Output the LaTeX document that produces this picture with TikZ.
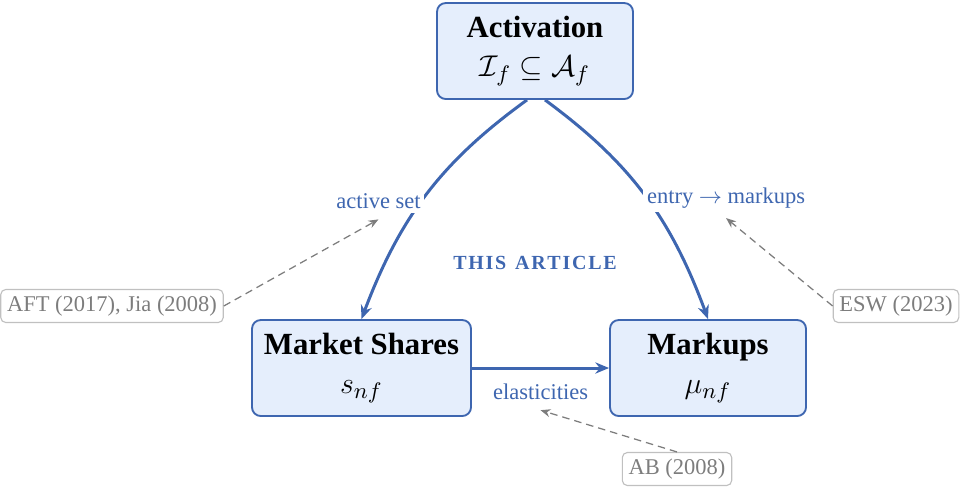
\documentclass[tikz,border=0pt]{standalone}
\usepackage{fontspec}
\setmainfont{Liberation Serif}
\usetikzlibrary{arrows.meta,bending}
\definecolor{mblue}{RGB}{62,102,176}
\definecolor{mfill}{RGB}{229,238,252}
\definecolor{cgray}{RGB}{125,125,125}
\definecolor{cborder}{RGB}{192,192,192}
\tikzset{
  mainbox/.style={draw=mblue, fill=mfill, line width=0.75pt, rounded corners=3.5pt,
    align=center, inner sep=0pt, minimum height=38.4pt,
    font=\fontsize{12.3}{15.5}\selectfont},
  flow/.style={draw=mblue, line width=1.2pt, -{Stealth[length=5.5pt,width=4.5pt]}},
  lbl/.style={text=mblue, fill=white, inner sep=1.5pt, font=\fontsize{9}{10}\selectfont},
  cite/.style={draw=cborder, rounded corners=2pt, text=cgray, line width=0.45pt,
    inner sep=2.5pt, minimum height=13.2pt, font=\fontsize{9}{10}\selectfont},
  refarrow/.style={draw=cgray, line width=0.5pt, dash pattern=on 3pt off 2pt,
    -{Stealth[length=4pt,width=3.2pt]}}
}
\begin{document}
\begin{tikzpicture}[x=0.4pt,y=-0.4pt]
\useasboundingbox (0,0) rectangle (960,489);
\node[mainbox, minimum width=78.4pt] (act) at (535,51)
  {\bfseries Activation\\ $\mathcal{I}_f \subseteq \mathcal{A}_f$};
\node[mainbox, minimum width=87.6pt] (ms) at (361.5,368)
  {\bfseries Market Shares\\ $s_{nf}$};
\node[mainbox, minimum width=78.4pt] (mk) at (708,368)
  {\bfseries Markups\\ $\mu_{nf}$};

\draw[flow] ([xshift=-3.2pt]act.south) to[bend right=17]
  node[lbl, pos=0.53, anchor=east, xshift=2pt] (l1) {active set} (ms.north);
\draw[flow] ([xshift=4pt]act.south) to[bend left=17]
  node[lbl, pos=0.51, anchor=west, xshift=-2pt] (l2) {entry $\rightarrow$ markups} (mk.north);
\draw[flow] (ms.east) -- node[lbl, midway, yshift=-9.6pt] (l3) {elasticities} (mk.west);

\node[text=mblue, font=\fontsize{8}{10}\selectfont\bfseries] (art) at (535,263)
  {T\kern.7pt H\kern.7pt I\kern.7pt S\hspace{3.5pt}A\kern.7pt R\kern.7pt T\kern.7pt I\kern.7pt C\kern.7pt L\kern.7pt E};

\node[cite] (aft) at (112,306) {AFT (2017), Jia (2008)};
\node[cite] (esw) at (896,306) {ESW (2023)};
\node[cite] (ab) at (677,469) {AB (2008)};

\draw[refarrow] (aft.east) -- ([yshift=-2pt]l1.south);
\draw[refarrow] (esw.west) -- ([yshift=-2pt]l2.south);
\draw[refarrow] (ab.north) -- ([yshift=-2pt]l3.south);
\end{tikzpicture}
\end{document}
